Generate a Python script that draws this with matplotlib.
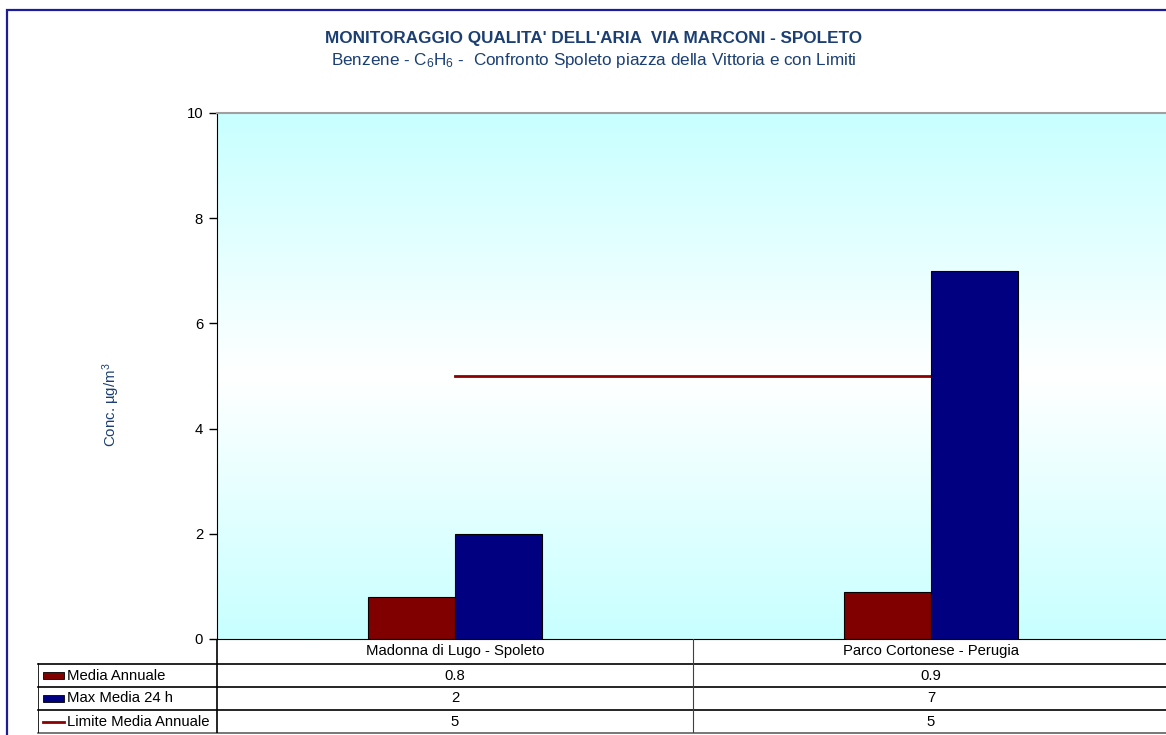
import numpy as np
import matplotlib.pyplot as plt
from matplotlib.colors import LinearSegmentedColormap
from matplotlib.patches import Rectangle

plt.rcParams['font.family'] = ['Liberation Sans', 'DejaVu Sans']
plt.rcParams['mathtext.fontset'] = 'custom'
plt.rcParams['mathtext.rm'] = 'Liberation Sans'
plt.rcParams['mathtext.it'] = 'Liberation Sans:italic'

# dati
stazioni = ['Madonna di Lugo - Spoleto', 'Parco Cortonese - Perugia']
media_annuale = [0.8, 0.9]
max_media_24h = [2, 7]
limite_media_annuale = [5, 5]
serie_nomi = ['Media Annuale', 'Max Media 24 h', 'Limite Media Annuale']
yticks = [0, 2, 4, 6, 8, 10]

W, H = 1166, 735
fig = plt.figure(figsize=(W / 100, H / 100), dpi=100)
fig.patch.set_facecolor('white')

def px(x0, y0, x1, y1):
    # pixel box -> figure fraction [left, bottom, width, height]
    return [x0 / W, 1 - y1 / H, (x1 - x0) / W, (y1 - y0) / H]

# cornice esterna
fig.add_artist(Rectangle((7 / W, -0.1), 1.2, 1 - 10 / H + 0.1, transform=fig.transFigure,
                         fill=False, edgecolor='#1c1c9c', linewidth=1.6))

title_col = '#1b3f73'
fig.text(594 / W, 1 - 38 / H, "MONITORAGGIO QUALITA' DELL'ARIA  VIA MARCONI - SPOLETO",
         ha='center', va='center', fontsize=12.3, fontweight='bold', color=title_col)
fig.text(594 / W, 1 - 61 / H,
         r"Benzene - C$_\mathrm{6}$H$_\mathrm{6}$ -  Confronto Spoleto piazza della Vittoria e con Limiti",
         ha='center', va='center', fontsize=12.3, color=title_col)

x0, x1, y0, y1 = 217, 1169, 113, 639
ax = fig.add_axes(px(x0, y0, x1, y1))
ax.set_xlim(-0.5, 1.5)
ax.set_ylim(0, 10)

# sfondo sfumato ciano-bianco-ciano
cmap = LinearSegmentedColormap.from_list('bg', ['#c8ffff', '#ffffff', '#c8ffff'])
grad = np.linspace(0, 1, 256).reshape(-1, 1)
ax.imshow(grad, extent=[-0.5, 1.5, 0, 10], aspect='auto', cmap=cmap, zorder=0, origin='lower')

x = np.arange(len(stazioni))
bw = 87 / 476
ax.bar(x - bw / 2, media_annuale, bw, color='#800000', edgecolor='black', linewidth=0.8, zorder=2)
ax.bar(x + bw / 2, max_media_24h, bw, color='#000080', edgecolor='black', linewidth=0.8, zorder=3)
ax.plot(x, limite_media_annuale, color='#8b0000', linewidth=2, zorder=2.5)

ax.set_yticks(yticks)
ax.set_yticklabels([str(v) for v in yticks], fontsize=10.7)
ax.tick_params(axis='y', direction='out', length=6, width=1, pad=4)
ax.set_xticks([])
ax.spines['left'].set_color('black')
ax.spines['bottom'].set_color('black')
ax.spines['top'].set_color('#a0a0a0')
ax.spines['top'].set_linewidth(1.5)
ax.spines['right'].set_color('#a0a0a0')

fig.text(111 / W, 1 - 405 / H, r"Conc. µg/m$^\mathrm{3}$", rotation=90, ha='center', va='center',
         fontsize=10.8, color=title_col)

# tabella dati
t_left, t_top, t_bot = 38, 639, 733
tax = fig.add_axes(px(t_left, t_top, x1, t_bot))
scale = 476.0
xl = -0.5 - (x0 - t_left) / scale
tax.set_xlim(xl, 1.5)
tax.set_ylim(t_bot, t_top)
tax.axis('off')
rows = [664, 687, 710, 733]
for i, yr in enumerate(rows):
    tax.plot([xl, 1.5], [yr, yr], color='black' if i < 3 else '#606060', lw=1.2, clip_on=False)
tax.plot([xl, xl], [664, 733], color='black', lw=1.2)
tax.plot([-0.5, -0.5], [639, 733], color='black', lw=1.2)
tax.plot([0.5, 0.5], [639, 733], color='#404040', lw=0.8)

for i, s in enumerate(stazioni):
    tax.text(x[i], 651, s, ha='center', va='center', fontsize=10.7)

valori = [media_annuale, max_media_24h, limite_media_annuale]
kx = xl + 5 / scale
kw = 21 / scale
for r, (nome, vals) in enumerate(zip(serie_nomi, valori)):
    yc = (rows[r] + rows[r + 1]) / 2
    if r == 0:
        tax.add_patch(Rectangle((kx, yc - 3.5), kw, 7, facecolor='#800000', edgecolor='black', lw=0.6))
    elif r == 1:
        tax.add_patch(Rectangle((kx, yc - 3.5), kw, 7, facecolor='#000080', edgecolor='black', lw=0.6))
    else:
        tax.plot([kx, kx + kw], [yc, yc], color='#8b0000', lw=2)
    tax.text(kx + kw + 3 / scale, yc, nome, ha='left', va='center', fontsize=10.7)
    for i, v in enumerate(vals):
        tax.text(x[i], yc, f'{v:g}', ha='center', va='center', fontsize=10.7)

fig.savefig('out.png', dpi=100)
